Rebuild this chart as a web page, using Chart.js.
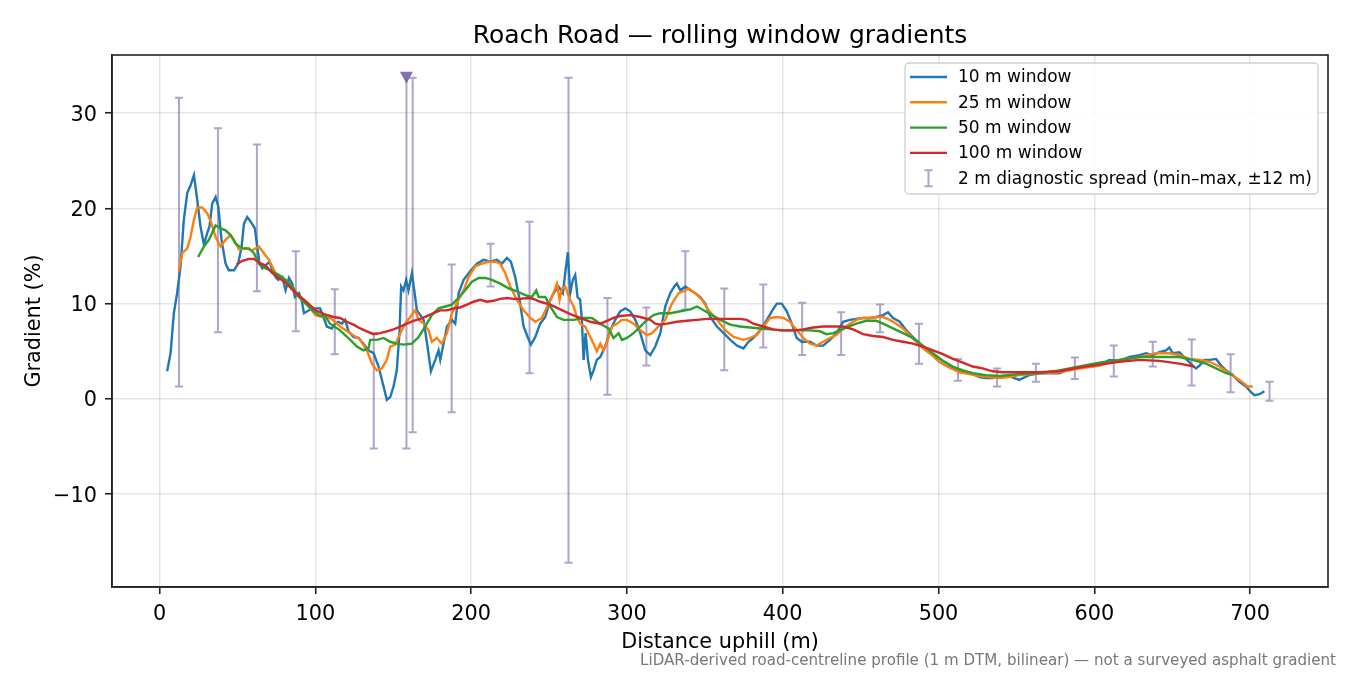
<!DOCTYPE html>
<html>
<head>
<meta charset="utf-8">
<title>Roach Road gradients</title>
<script src="https://cdn.jsdelivr.net/npm/chart.js@4.4.0/dist/chart.umd.min.js"></script>
<style>
  html, body { margin: 0; padding: 0; background: #fff; }
</style>
</head>
<body>
<canvas id="chart" width="1350" height="675"></canvas>
<script>
// rolling-window gradient profiles, [distance m, gradient %]
const win10 = [
  [4.9,2.9],[7.1,4.8],[9.2,9.0],[11.3,11.1],[13.5,13.9],[15.6,18.8],[17.8,21.6],[19.9,22.4],[22.1,23.5],[24.2,20.9],
  [26.3,18.1],[28.5,16.2],[30.6,17.4],[32.1,18.1],[33.8,20.5],[36.0,21.2],[37.7,20.2],[39.8,16.7],[42.4,14.2],[44.5,13.5],
  [47.8,13.5],[50.5,14.2],[52.7,16.0],[54.2,18.4],[56.3,19.1],[58.5,18.6],[61.2,17.9],[62.7,16.0],[64.2,14.2],[66.0,13.7],
  [68.5,14.1],[70.7,14.4],[72.4,13.5],[74.5,12.8],[76.2,12.5],[78.8,12.8],[80.9,11.4],[83.1,12.7],[85.2,12.1],[86.9,10.7],
  [89.5,11.1],[91.2,10.4],[92.7,9.0],[95.9,9.3],[98.1,9.5],[101,9.5],[103.1,9.5],[105.2,8.6],[107.4,7.6],[110.6,7.4],
  [112.7,7.9],[114.9,8.1],[117,7.9],[119.2,8.3],[121.3,7.1],[124.5,6.5],[127.7,6.4],[130.9,5.8],[134.1,5.1],[137.4,4.8],
  [140.6,3.4],[143.8,1.3],[145.9,-0.1],[148.1,0.2],[150.2,1.3],[152.3,3.0],[154,6.9],[155.1,11.8],[156.6,11.4],[158.3,12.5],
  [159.8,11.4],[162,13.2],[163.5,11.4],[165.2,9.3],[169.5,8.3],[172,5.5],[174.2,2.9],[177,4.1],[179.1,5.1],[180.2,4.1],
  [182.3,5.8],[184.5,7.6],[187.7,8.3],[189.8,7.9],[192,11.1],[195.2,12.5],[199.4,13.4],[203.7,14.2],[208,14.6],[212.3,14.4],
  [216.6,14.6],[219.8,14.2],[223,14.8],[225.5,14.4],[228.3,12.8],[231.1,10.4],[233.7,7.6],[236.3,6.5],[238.4,5.7],[241.2,6.5],
  [244.3,7.9],[247.6,8.6],[250.8,10.4],[252.9,11.1],[256.1,11.8],[258.9,11.1],[260.4,13.2],[262.1,15.4],[263.6,11.1],[265.3,12.5],
  [266.8,13.0],[268.3,10.7],[270,10.4],[271.1,8.3],[272.2,4.1],[273.5,6.9],[275,4.1],[276.9,2.3],[278.6,3.0],[280.7,4.1],
  [282.9,4.4],[286.1,5.5],[289.3,7.2],[292.5,8.3],[295.7,9.2],[298.9,9.5],[302.1,9.2],[305.4,8.3],[308.6,6.9],[311.8,5.1],
  [315,4.6],[318.2,5.5],[321.4,6.9],[324.6,9.7],[327.8,11.1],[330.4,11.8],[332.1,12.1],[334.3,11.4],[337.5,11.8],[340.7,11.4],
  [343.9,11.1],[347.1,10.7],[350.3,10.0],[353.5,8.6],[357.8,7.6],[362.1,6.9],[366.4,6.2],[370.6,5.6],[374.8,5.3],[378,6.0],
  [381.2,6.4],[385.5,7.2],[389.8,8.3],[393,9.2],[396.2,10.0],[399.4,10.0],[402.6,9.2],[405.8,7.9],[409,6.4],[412.2,6.0],
  [417.5,6.0],[421.7,5.6],[426,5.6],[430.3,6.2],[434.5,6.9],[438.8,8.1],[443.1,8.3],[447.3,8.4],[451.6,8.5],[455.9,8.5],
  [460.1,8.6],[464.4,8.8],[467.6,9.1],[470.8,8.5],[475.1,8.1],[479.3,7.2],[483.6,6.5],[487.8,5.8],[492.1,5.3],[496.4,4.6],
  [500.6,3.9],[504.9,3.5],[509.2,3.2],[513.4,3.0],[517.7,2.8],[522,2.6],[526.2,2.3],[530.5,2.2],[534.8,2.2],[539,2.3],
  [545.4,2.4],[551.8,2.0],[558.2,2.5],[564.7,2.7],[571.1,2.7],[577.5,2.7],[583.9,3.1],[590.4,3.3],[596.8,3.4],[603.2,3.5],
  [609.6,4.1],[616.1,4.0],[622.5,4.4],[628.9,4.6],[633.2,4.8],[637.5,4.6],[641.8,4.9],[646,5.1],[648.2,5.4],[650.3,4.8],
  [654.6,4.9],[658.9,4.2],[663.2,3.5],[665.3,3.2],[667.5,3.5],[670.7,4.1],[673.9,4.1],[678.2,4.2],[681.4,3.5],[684.6,3.0],
  [688.9,2.5],[693.1,1.8],[697.4,1.3],[700.6,0.7],[702.8,0.4],[706,0.5],[709.2,0.8]
];
const win25 = [
  [12.4,13.4],[14.6,15.3],[17.8,15.8],[19.9,17.0],[22.1,18.8],[24.2,20.1],[27.4,20.1],[30.6,19.5],[33.4,18.4],[36,17.0],
  [39.2,16.0],[42.4,16.7],[45.6,17.2],[47.8,16.7],[51,15.7],[55.2,15.8],[59.5,15.6],[63.8,16.0],[67,15.3],[70.2,14.6],
  [74.5,13.2],[78.8,12.7],[83.1,12.1],[87.4,11.1],[91.6,10.4],[95.9,9.7],[100.2,8.8],[104.5,8.6],[109.5,8.5],[115.9,7.6],
  [122.4,6.9],[128.8,6.2],[133.1,5.1],[136.3,3.7],[139.5,3.0],[142.7,3.2],[145.9,4.1],[148.1,5.5],[151.3,5.7],[154.5,6.9],
  [157.7,7.9],[160.9,8.6],[164.1,9.3],[166.3,8.3],[169.5,7.9],[172.7,7.2],[174.8,6.0],[178,6.4],[181.2,5.8],[184.5,6.9],
  [187.7,9.0],[191.9,10.4],[195.2,11.4],[198.4,12.8],[202.6,13.9],[206.9,14.2],[211.2,14.4],[215.5,14.4],[218.7,14.2],[221.9,13.2],
  [225.1,11.8],[229.4,10.4],[233.7,9.3],[238,8.5],[241.2,8.1],[245.4,8.5],[249.7,10.0],[252.9,11.1],[255.1,12.1],[256.8,10.4],
  [258.3,11.6],[260.4,11.8],[263.6,10.4],[265.8,9.7],[267.9,8.6],[270,7.9],[273.2,7.6],[276.5,6.5],[278.6,5.8],[280.7,5.0],
  [282.9,5.8],[285,5.1],[287.6,6.2],[290.4,7.6],[293.6,7.9],[296.8,8.3],[300,8.3],[304.3,7.9],[308.6,7.2],[312.9,6.7],
  [316.1,6.9],[320.3,7.6],[324.6,8.3],[328.9,10.0],[333.2,11.1],[337.5,11.4],[339.6,11.6],[343.9,11.1],[348.2,10.4],[352.5,9.3],
  [357.8,8.3],[363.2,7.2],[368.5,6.5],[370.6,6.4],[374.8,6.2],[379.1,6.4],[383.4,6.7],[387.6,7.6],[391.9,8.5],[396.2,8.6],
  [400.4,8.5],[404.7,8.1],[409,7.2],[413.2,6.4],[417.5,5.8],[421.7,5.6],[426,6.0],[430.3,6.4],[434.5,6.7],[438.8,7.4],
  [443.1,7.9],[447.3,8.3],[451.6,8.5],[455.9,8.5],[460.1,8.6],[464.4,8.6],[468.7,8.3],[472.9,7.9],[477.2,7.4],[481.4,6.7],
  [485.7,6.0],[490,5.3],[494.2,4.8],[498.5,4.2],[502.8,3.7],[507,3.3],[513.4,2.8],[519.8,2.6],[526.2,2.4],[532.6,2.3],
  [539,2.2],[545.4,2.3],[551.8,2.5],[564.7,2.7],[577.5,2.8],[590.4,3.2],[603.2,3.5],[616.1,4.1],[628.9,4.4],[639.6,4.8],
  [648.2,4.8],[654.6,4.6],[661,4.2],[667.5,4.1],[673.9,3.9],[680.3,3.4],[686.7,2.7],[693.1,2.0],[698.5,1.3],[701.7,1.3]
];
const win50 = [
  [24.8,14.9],[28.5,16.0],[31.7,16.7],[36,18.2],[39.2,17.9],[42.4,17.7],[45.6,17.2],[48.8,16.3],[53.1,15.8],[57.4,15.8],
  [60.6,15.3],[63.8,14.2],[68.1,13.7],[72.4,13.4],[76.7,13.0],[81,12.5],[85.2,11.8],[89.5,10.7],[93.8,10.0],[98.1,9.3],
  [102.4,8.8],[106.6,8.6],[109.5,7.9],[115.9,7.2],[122.4,6.2],[126.7,5.5],[130.9,5.1],[134.1,5.3],[135.2,6.2],[139.5,6.2],
  [143.8,6.4],[148.1,6.0],[152.3,5.8],[156.6,5.7],[162,5.8],[166.3,6.5],[170.5,7.6],[174.8,8.8],[179.1,9.5],[183.4,9.7],
  [187.7,9.9],[191.9,10.6],[196.2,11.4],[200.5,12.3],[204.8,12.7],[209.1,12.7],[213.4,12.5],[218.7,12.1],[224.1,11.6],[229.4,11.3],
  [234.8,10.9],[239,10.7],[241.8,11.4],[243.3,10.7],[247.6,10.7],[250.8,9.7],[255.1,8.6],[259.3,8.3],[265.8,8.3],[272.2,8.5],
  [277.5,8.5],[282.9,7.9],[288.2,7.4],[291.4,6.4],[294.7,6.9],[296.8,6.2],[300,6.4],[304.3,6.9],[308.6,7.6],[312.9,8.3],
  [317.1,8.8],[321.4,9.0],[327.8,9.0],[334.3,9.2],[340.7,9.4],[345,9.7],[349.2,9.3],[354.6,8.8],[360,8.3],[366.3,7.8],
  [372.7,7.6],[379.1,7.5],[385.5,7.4],[391.9,7.3],[398.3,7.2],[404.7,7.2],[411.1,7.2],[417.5,7.2],[423.9,7.1],[428.1,6.8],
  [432.4,6.9],[436.7,7.2],[440.9,7.5],[447.3,7.9],[453.7,8.2],[460.1,8.2],[464.4,7.9],[470.8,7.4],[477.2,6.9],[483.6,6.4],
  [490,5.6],[496.4,4.8],[502.8,4.0],[509.2,3.4],[515.6,3.0],[522,2.7],[530.5,2.5],[539,2.4],[551.8,2.6],[564.7,2.7],
  [577.5,3.0],[590.4,3.4],[603.2,3.8],[616.1,4.1],[628.9,4.4],[641.8,4.4],[654.6,4.4],[663.2,4.1],[671.7,3.7],[678.2,3.2],
  [684.6,2.7],[688.9,2.5]
];
const win100 = [
  [49.5,14.1],[53.1,14.5],[57.4,14.7],[60.6,14.7],[63.8,14.3],[68.1,14.0],[72.4,13.2],[76.7,12.7],[81,12.2],[86.3,11.3],
  [90.6,10.7],[94.9,10.1],[100.2,9.3],[105.6,8.9],[111.7,8.6],[115.9,8.5],[120.2,8.1],[124.5,7.8],[128.8,7.4],[133.1,7.1],
  [137.4,6.8],[141.6,6.9],[145.9,7.1],[150.2,7.3],[154.5,7.6],[158.8,7.9],[163,8.2],[167.3,8.4],[171.6,8.7],[175.9,9.0],
  [180.2,9.3],[184.5,9.3],[188.7,9.5],[193,9.6],[197.3,9.9],[201.6,10.2],[205.9,10.4],[210.1,10.2],[214.4,10.3],[218.7,10.5],
  [223,10.6],[227.3,10.5],[231.5,10.5],[235.8,10.6],[240.1,10.5],[244.3,10.2],[250.8,9.9],[257.2,9.4],[263.6,8.9],[270,8.5],
  [276.5,8.1],[282.9,7.9],[287.2,8.2],[291.4,8.5],[295.7,8.7],[302.1,8.8],[308.6,8.6],[315,8.3],[318.2,7.9],[321.4,7.8],
  [325.7,7.9],[332.1,8.1],[338.5,8.2],[344.9,8.3],[351.4,8.4],[357.8,8.4],[364.2,8.4],[372.7,8.4],[377,8.3],[381.2,7.9],
  [387.6,7.6],[394,7.3],[400.4,7.2],[406.8,7.2],[413.2,7.3],[419.6,7.5],[426,7.6],[432.4,7.6],[438.8,7.6],[445.2,7.3],
  [451.6,6.8],[458,6.6],[464.4,6.5],[470.8,6.2],[477.2,6.0],[483.6,5.8],[490,5.5],[496.4,5.1],[502.8,4.7],[509.2,4.2],
  [515.6,3.8],[522,3.4],[528.4,3.2],[534.8,2.9],[541.2,2.8],[551.8,2.8],[564.7,2.8],[577.5,2.9],[590.4,3.3],[603.2,3.6],
  [616.1,3.9],[628.9,4.1],[641.8,4.0],[654.6,3.7],[664.2,3.4]
];

// 2 m diagnostic spread (min-max within +-12 m)
const spreadX  = [12.5, 37.5, 62.5, 87.5, 112.5, 137.5, 162.5, 187.5, 212.5, 237.5, 262.5, 287.5, 312.5, 337.5, 362.5,
                  387.5, 412.5, 437.5, 462.5, 487.5, 512.5, 537.5, 562.5, 587.5, 612.5, 637.5, 662.5, 687.5, 712.5];
const spreadLo = [1.3, 7.0, 11.3, 7.1, 4.7, -5.2, -3.5, -1.4, 11.8, 2.7, -17.2, 0.45, 3.5, 9.4, 3.0,
                  5.4, 4.6, 4.6, 7.0, 3.7, 1.9, 1.3, 1.8, 2.1, 2.35, 3.4, 1.4, 0.7, -0.2];
const spreadHi = [31.6, 28.4, 26.7, 15.5, 11.5, 6.9, 33.7, 14.1, 16.3, 18.6, 33.7, 10.6, 9.6, 15.5, 11.6,
                  12.0, 10.1, 9.1, 9.9, 7.9, 4.2, 3.2, 3.7, 4.35, 5.6, 6.0, 6.25, 4.7, 1.8];
// spread that runs off the top, marked with a triangle
const clipX  = [158.5];
const clipLo = [-5.2];
const clipHi = [33.7];

const FONT = 'DejaVu Sans';
const TITLE = 'Roach Road \u2014 rolling window gradients';
const NOTE = 'LiDAR-derived road-centreline profile (1 m DTM, bilinear) \u2014 not a surveyed asphalt gradient';
const SPREAD_COLOR = 'rgba(110, 90, 160, 0.55)';
const CLIP_COLOR = 'rgba(110, 90, 160, 0.85)';

function pts(arr) { return arr.map(p => ({ x: p[0], y: p[1] })); }

function line(label, arr, color, order) {
  return {
    label: label,
    data: pts(arr),
    borderColor: color,
    backgroundColor: color,
    borderWidth: 2.4,
    pointRadius: 0,
    tension: 0,
    fill: false,
    order: order
  };
}

// error bars drawn through the chart's own scales
const spreadPlugin = {
  id: 'spread',
  beforeDatasetsDraw(chart) {
    const { ctx, chartArea, scales: { x, y } } = chart;
    ctx.save();
    ctx.beginPath();
    ctx.rect(chartArea.left, chartArea.top, chartArea.width, chartArea.height);
    ctx.clip();
    ctx.strokeStyle = SPREAD_COLOR;
    ctx.lineWidth = 2;
    const cap = 4;
    spreadX.forEach((v, i) => {
      const px = x.getPixelForValue(v);
      const lo = y.getPixelForValue(spreadLo[i]);
      const hi = y.getPixelForValue(spreadHi[i]);
      ctx.beginPath();
      ctx.moveTo(px, lo); ctx.lineTo(px, hi);
      ctx.moveTo(px - cap, lo); ctx.lineTo(px + cap, lo);
      ctx.moveTo(px - cap, hi); ctx.lineTo(px + cap, hi);
      ctx.stroke();
    });
    clipX.forEach((v, i) => {
      const px = x.getPixelForValue(v);
      const lo = y.getPixelForValue(clipLo[i]);
      const hi = y.getPixelForValue(clipHi[i]);
      ctx.strokeStyle = SPREAD_COLOR;
      ctx.beginPath();
      ctx.moveTo(px, lo); ctx.lineTo(px, hi);
      ctx.moveTo(px - cap, lo); ctx.lineTo(px + cap, lo);
      ctx.stroke();
      ctx.fillStyle = CLIP_COLOR;
      ctx.beginPath();
      ctx.moveTo(px - 6.5, hi - 6);
      ctx.lineTo(px + 6.5, hi - 6);
      ctx.lineTo(px, hi + 6);
      ctx.closePath();
      ctx.fill();
    });
    ctx.restore();
  }
};

const framePlugin = {
  id: 'frame',
  afterDraw(chart) {
    const { ctx, chartArea: a } = chart;
    ctx.save();
    ctx.strokeStyle = '#222';
    ctx.lineWidth = 1.6;
    ctx.strokeRect(a.left, a.top, a.right - a.left, a.bottom - a.top);

    // title centred over the axes
    ctx.font = '25px "' + FONT + '"';
    ctx.fillStyle = '#000';
    ctx.textAlign = 'center';
    ctx.textBaseline = 'alphabetic';
    ctx.fillText(TITLE, (a.left + a.right) / 2, 43);

    // legend box, top right inside the axes
    const w = 413, h = 131;
    const lx = a.right - 10 - w, ly = a.top + 8;
    ctx.beginPath();
    ctx.roundRect(lx, ly, w, h, 4);
    ctx.fillStyle = 'rgba(255,255,255,0.85)';
    ctx.fill();
    ctx.strokeStyle = '#d0d0d0';
    ctx.lineWidth = 1.3;
    ctx.stroke();
    ctx.font = '17px "' + FONT + '"';
    ctx.textBaseline = 'middle';
    ctx.textAlign = 'left';
    const rowH = 25.3;
    chart.data.datasets.forEach((ds, i) => {
      const ry = ly + 14 + i * rowH;
      ctx.strokeStyle = ds.borderColor;
      ctx.lineWidth = 2.4;
      ctx.beginPath();
      ctx.moveTo(lx + 5, ry); ctx.lineTo(lx + 42, ry);
      ctx.stroke();
      ctx.fillStyle = '#000';
      ctx.fillText(ds.label, lx + 53, ry + 1);
    });
    const ey = ly + 14 + 4 * rowH;
    const ex = lx + 23.5;
    ctx.strokeStyle = SPREAD_COLOR;
    ctx.lineWidth = 2;
    ctx.beginPath();
    ctx.moveTo(ex, ey - 8); ctx.lineTo(ex, ey + 8);
    ctx.moveTo(ex - 4, ey - 8); ctx.lineTo(ex + 4, ey - 8);
    ctx.moveTo(ex - 4, ey + 8); ctx.lineTo(ex + 4, ey + 8);
    ctx.stroke();
    ctx.fillStyle = '#000';
    ctx.fillText('2 m diagnostic spread (min\u2013max, \u00b112 m)', lx + 53, ey + 1);

    // footnote
    ctx.font = '15.1px "' + FONT + '"';
    ctx.fillStyle = '#777';
    ctx.textAlign = 'right';
    ctx.textBaseline = 'alphabetic';
    ctx.fillText(NOTE, 1336, 665);
    ctx.restore();
  }
};

const minusTick = v => (v < 0 ? '\u2212' + Math.abs(v) : String(v));

new Chart(document.getElementById('chart'), {
  type: 'line',
  data: {
    datasets: [
      line('10 m window', win10, '#1f77b4', 4),
      line('25 m window', win25, '#ff7f0e', 3),
      line('50 m window', win50, '#2ca02c', 2),
      line('100 m window', win100, '#d62728', 1)
    ]
  },
  options: {
    responsive: false,
    devicePixelRatio: 1,
    animation: false,
    layout: { padding: { top: 55, right: 22, bottom: 0, left: 0 } },
    plugins: {
      legend: { display: false },
      tooltip: { enabled: false },
      title: { display: false }
    },
    scales: {
      x: {
        type: 'linear',
        min: -30.5,
        max: 750,
        ticks: {
          stepSize: 100,
          includeBounds: false,
          maxRotation: 0,
          color: '#000',
          padding: 8,
          font: { family: FONT, size: 20.8 },
          callback: minusTick
        },
        grid: { color: 'rgba(0,0,0,0.1)', lineWidth: 1.5, tickColor: '#222', tickLength: 7, tickWidth: 1.6 },
        border: { color: '#222', width: 1.6 },
        title: {
          display: true,
          text: 'Distance uphill (m)',
          color: '#000',
          font: { family: FONT, size: 20.8 },
          padding: { top: 0, bottom: 20 }
        },
        afterFit: s => { s.height = 88; }
      },
      y: {
        type: 'linear',
        min: -19.74,
        max: 36.1,
        ticks: {
          stepSize: 10,
          includeBounds: false,
          color: '#000',
          padding: 8,
          labelOffset: 2,
          font: { family: FONT, size: 20.8 },
          callback: minusTick
        },
        grid: { color: 'rgba(0,0,0,0.1)', lineWidth: 1.5, tickColor: '#222', tickLength: 7, tickWidth: 1.6 },
        border: { color: '#222', width: 1.6 },
        title: {
          display: true,
          text: 'Gradient (%)',
          color: '#000',
          font: { family: FONT, size: 20.8 },
          padding: { top: 22, bottom: 0 }
        },
        afterFit: s => { s.width = 112; }
      }
    }
  },
  plugins: [spreadPlugin, framePlugin]
});
</script>
</body>
</html>
